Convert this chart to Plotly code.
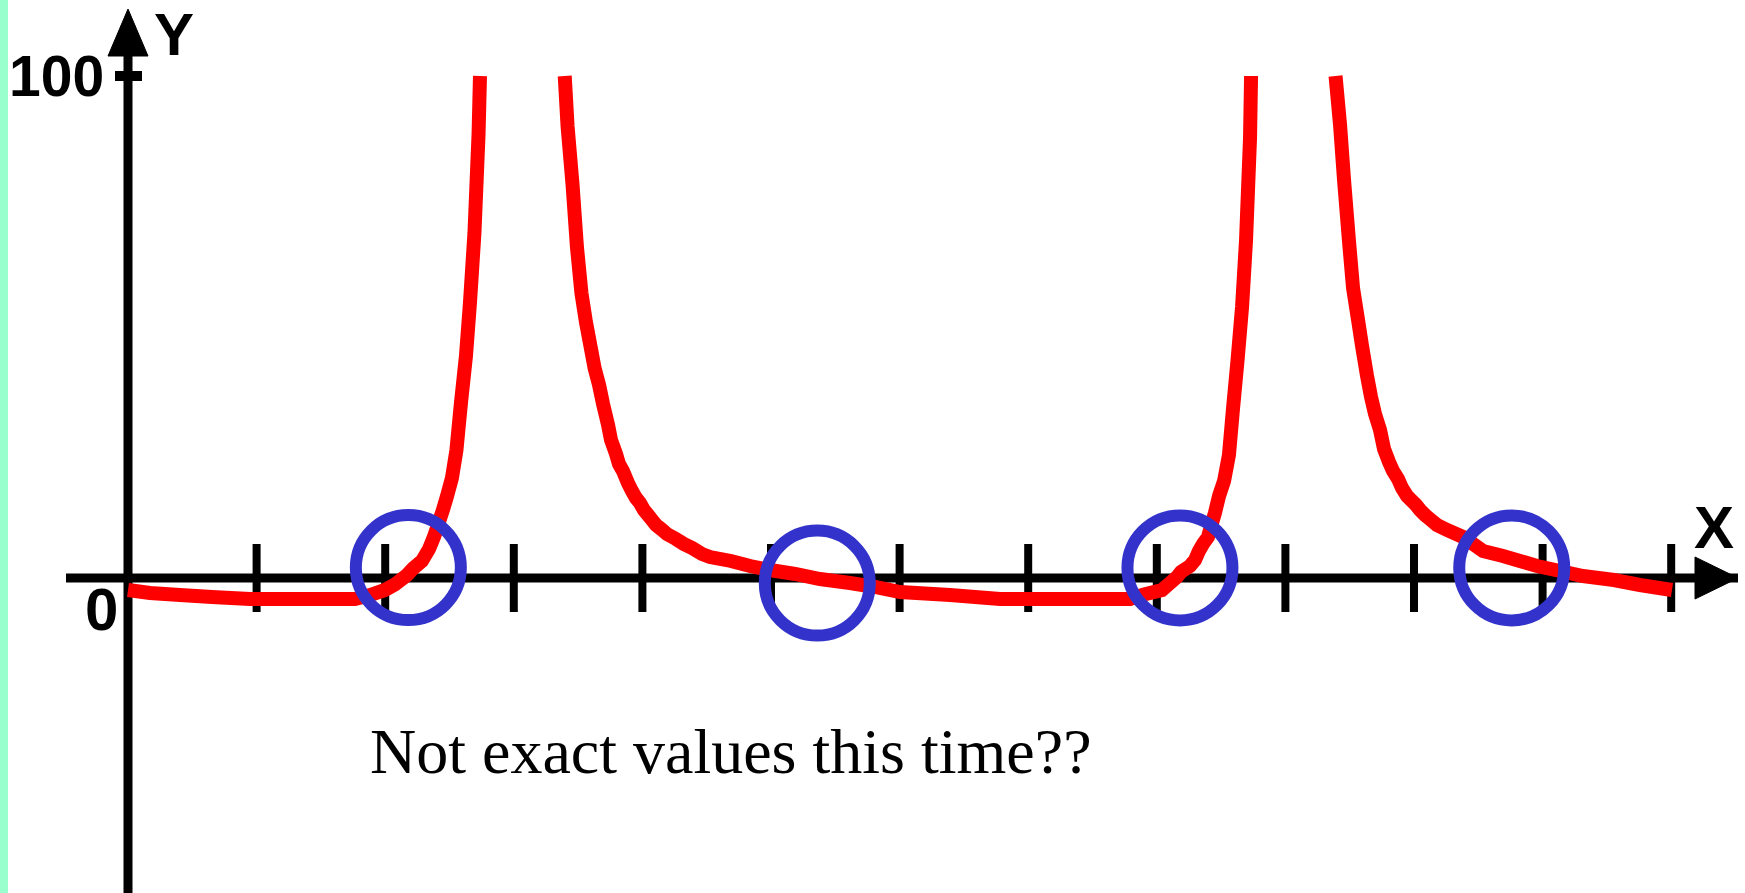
import plotly.graph_objects as go

# ---- curve samples (x in tick units, y in value units) ----
branch1_x = [0.00, 0.171, 0.404, 0.653, 0.949, 1.337, 1.765, 1.882, 1.998, 2.076, 2.170, 2.216,
             2.286, 2.341, 2.379, 2.449, 2.481, 2.519, 2.554, 2.589, 2.628, 2.659, 2.694, 2.726, 2.737]
branch1_y = [-2.39, -2.99, -3.39, -3.78, -4.18, -4.18, -4.18, -3.39, -2.39, -1.29, 0.60, 1.89,
             3.39, 5.78, 8.17, 13.55, 16.33, 19.92, 25.50, 34.86, 44.22, 54.78, 68.73, 88.45, 100.0]

branch2_x = [3.396, 3.418, 3.457, 3.491, 3.526, 3.561, 3.596, 3.628, 3.663, 3.694, 3.733, 3.756,
             3.795, 3.818, 3.849, 3.888, 3.919, 3.950, 3.981, 4.012, 4.044, 4.075, 4.106, 4.145,
             4.191, 4.261, 4.323, 4.386, 4.463, 4.526, 4.689, 4.837, 4.992, 5.187, 5.381, 5.614,
             5.809, 6.003, 6.392, 6.781, 7.792, 7.900, 8.040, 8.103, 8.157, 8.188, 8.258, 8.297,
             8.328, 8.359, 8.398, 8.452, 8.484, 8.523, 8.561, 8.593, 8.628, 8.663, 8.694, 8.725, 8.733]
branch2_y = [100.0, 90.04, 78.29, 65.94, 56.77, 51.0, 46.22, 41.83, 38.45, 34.66, 30.48, 27.49,
             24.70, 22.71, 21.31, 18.92, 17.33, 15.94, 14.94, 13.55, 12.55, 11.55, 10.56, 9.76,
             8.76, 7.77, 6.77, 5.98, 4.78, 4.18, 3.39, 2.39, 1.59, 0.80, -0.20, -1.00,
             -1.79, -2.79, -3.39, -4.18, -4.18, -3.29, -2.39, -1.00, 0.20, 1.20, 2.39, 3.59,
             5.38, 6.77, 8.17, 12.95, 16.33, 19.32, 24.50, 33.86, 43.43, 53.98, 67.33, 87.65, 100.0]

branch3_x = [9.390, 9.425, 9.456, 9.495, 9.526, 9.565, 9.596, 9.635, 9.666, 9.697, 9.736, 9.767,
             9.806, 9.837, 9.876, 9.907, 9.946, 9.977, 10.016, 10.047, 10.086, 10.132, 10.179,
             10.257, 10.381, 10.482, 10.537, 10.692, 10.824, 10.957, 11.136, 11.314, 11.555,
             11.757, 12.006]
branch3_y = [100.0, 90.24, 79.28, 66.93, 57.77, 51.39, 46.22, 40.24, 36.06, 32.67, 29.48, 25.70,
             23.11, 21.31, 19.72, 17.93, 16.33, 15.54, 14.54, 13.55, 12.55, 11.55, 10.56,
             9.56, 8.17, 6.37, 5.38, 4.38, 3.39, 2.39, 1.39, 0.40, -0.40,
             -1.39, -2.39]

# roots marked with rings
root_x = [2.18, 5.36, 8.18, 10.76]
root_y = [2.09, -1.0, 2.0, 2.0]

x_ticks = list(range(1, 13))
y_tick_value = 100
y_tick_labels = ["0", "100"]
x_name, y_name = "X", "Y"
caption = "Not exact values this time??"

# ---- scale: pixels per unit and origin position on the page ----
W, H = 1745, 893
OX, OY = 128, 578          # origin in page pixels
SX, SY = 128.6, 5.02       # pixels per x unit / per y unit


def dx(px):
    return px / SX


def dy(px):
    return px / SY


x_range = [-OX / SX, (W - OX) / SX]
y_range = [-(H - OY) / SY, OY / SY]

fig = go.Figure()
for bx, by in ((branch1_x, branch1_y), (branch2_x, branch2_y), (branch3_x, branch3_y)):
    fig.add_trace(go.Scatter(x=bx, y=by, mode="lines", hoverinfo="skip",
                             line=dict(color="#FF0000", width=14, simplify=False)))
fig.add_trace(go.Scatter(x=root_x, y=root_y, mode="markers", hoverinfo="skip",
                         marker=dict(symbol="circle-open", size=105, color="#3333CC",
                                     line=dict(width=12, color="#3333CC"))))

shapes = []
# left strip
shapes.append(dict(type="rect", xref="paper", yref="paper", x0=0, x1=8 / W, y0=0, y1=1,
                   fillcolor="#99FFCC", line=dict(width=0), layer="below"))
# y axis with arrow
y_top = y_range[1] - dy(56)
shapes.append(dict(type="line", xref="x", yref="y", x0=0, x1=0, y0=y_range[0], y1=y_top,
                   line=dict(color="black", width=9), layer="below"))
tip = y_range[1] - dy(9)
shapes.append(dict(type="path", xref="x", yref="y", layer="below",
                   path=f"M {-dx(20)},{y_top} L {dx(20)},{y_top} L 0,{tip} Z",
                   fillcolor="black", line=dict(color="black", width=1)))
# x axis with arrow
x_start = x_range[0] + dx(66)
x_tip = x_range[0] + dx(1738)
x_base = x_range[0] + dx(1695)
shapes.append(dict(type="line", xref="x", yref="y", x0=x_start, x1=x_tip, y0=0, y1=0,
                   line=dict(color="black", width=9), layer="below"))
shapes.append(dict(type="path", xref="x", yref="y", layer="below",
                   path=f"M {x_base},{-dy(21)} L {x_base},{dy(21)} L {x_tip},0 Z",
                   fillcolor="black", line=dict(color="black", width=1)))
# x ticks
for k in x_ticks:
    shapes.append(dict(type="line", xref="x", yref="y", x0=k, x1=k, y0=-dy(34), y1=dy(34),
                       line=dict(color="black", width=8), layer="below"))
# y tick
shapes.append(dict(type="line", xref="x", yref="y", x0=-dx(13), x1=dx(14),
                   y0=y_tick_value, y1=y_tick_value,
                   line=dict(color="black", width=10), layer="below"))

label_font = dict(family="Liberation Sans", size=60, color="black", weight="bold")
annotations = [
    dict(x=-dx(22), y=y_tick_value, text=y_tick_labels[1], xanchor="right", yanchor="middle",
         showarrow=False, font=dict(family="Liberation Sans", size=57, color="black",
                                    weight="bold")),
    dict(x=-dx(8), y=-dy(31), text=y_tick_labels[0], xanchor="right", yanchor="middle",
         showarrow=False, font=label_font),
    dict(x=dx(24), y=y_range[1] - dy(34), text=y_name, xanchor="left", yanchor="middle",
         showarrow=False, font=label_font),
    dict(x=x_base - dx(3), y=dy(51), text=x_name, xanchor="left", yanchor="middle",
         showarrow=False, font=label_font),
    dict(x=dx(240), y=-dy(173), text=caption, xanchor="left", yanchor="middle",
         showarrow=False, font=dict(family="Liberation Serif", size=64, color="black")),
]

fig.update_layout(
    width=W, height=H, margin=dict(l=0, r=0, t=0, b=0),
    paper_bgcolor="white", plot_bgcolor="white", showlegend=False,
    xaxis=dict(range=x_range, visible=False, fixedrange=True),
    yaxis=dict(range=y_range, visible=False, fixedrange=True),
    shapes=shapes, annotations=annotations,
)

fig.write_html("out.html")
